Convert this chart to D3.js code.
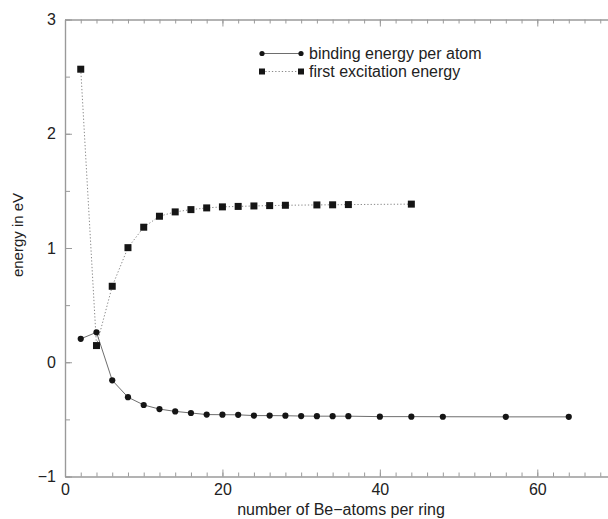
<!DOCTYPE html>
<html>
<head>
<meta charset="utf-8">
<script src="https://cdn.jsdelivr.net/npm/d3@7"></script>
<style>
  html, body { margin: 0; padding: 0; background: #fff; }
  svg { display: block; font-family: "Liberation Sans", Arial, Helvetica, sans-serif; }
</style>
</head>
<body>
<svg id="chart" width="608" height="519"></svg>
<script>
// Binding energy per atom for Be rings of increasing size
const bindingN = [2, 4, 6, 8, 10, 12, 14, 16, 18, 20, 22, 24, 26, 28, 30, 32, 34, 36, 40, 44, 48, 56, 64];
const bindingE = [0.205, 0.262, -0.158, -0.306, -0.374, -0.410, -0.430, -0.444, -0.458, -0.459, -0.460,
                  -0.467, -0.467, -0.468, -0.471, -0.472, -0.472, -0.472, -0.476, -0.476, -0.477, -0.478, -0.478];

// First excitation energy
const excitN = [2, 4, 6, 8, 10, 12, 14, 16, 18, 20, 22, 24, 26, 28, 32, 34, 36, 44];
const excitE = [2.565, 0.146, 0.665, 1.003, 1.182, 1.278, 1.316, 1.336, 1.351, 1.360, 1.364,
                1.368, 1.371, 1.374, 1.377, 1.378, 1.380, 1.384];

const xMajorTicks = [0, 20, 40, 60];
const yMajorTicks = [-1, 0, 1, 2, 3];
const seriesNames = ["binding energy per atom", "first excitation energy"];
const xTitle = "number of Be\u2212atoms per ring";
const yTitle = "energy in eV";

const svg = d3.select("#chart");
const axisColor = "#9a9a9a";
const lineColor = "#6e6e6e";
const markColor = "#151515";

const x = d3.scaleLinear().domain([0, 70]).range([65, 616]);
const y = d3.scaleLinear().domain([-1, 3]).range([476.5, 19.5]);

const xMinor = d3.range(0, 71, 2);
const yMinor = d3.range(-1, 3.01, 0.5);

function styleAxis(g) {
  g.select(".domain").attr("stroke", axisColor).attr("stroke-width", 1.2);
  g.selectAll(".tick line").attr("stroke", axisColor).attr("stroke-width", 1);
  g.selectAll(".tick text").attr("fill", "#222").style("font-size", "16px");
}

// bottom minor + major ticks, pointing inward
svg.append("g").attr("transform", `translate(0,${y(-1)})`)
  .call(d3.axisTop(x).tickValues(xMinor).tickSize(4).tickFormat("").tickSizeOuter(0))
  .call(styleAxis);
svg.append("g").attr("transform", `translate(0,${y(-1)})`)
  .call(d3.axisTop(x).tickValues(xMajorTicks).tickSize(7).tickFormat("").tickSizeOuter(0))
  .call(styleAxis);
// bottom labels
svg.append("g").attr("transform", `translate(0,${y(-1)})`)
  .call(d3.axisBottom(x).tickValues(xMajorTicks).tickSize(0).tickPadding(7).tickFormat(d3.format("d")).tickSizeOuter(0))
  .call(g => { g.select(".domain").remove(); })
  .call(styleAxis);

// top frame
svg.append("g").attr("transform", `translate(0,${y(3)})`)
  .call(d3.axisBottom(x).tickValues(xMinor).tickSize(4).tickFormat("").tickSizeOuter(0))
  .call(styleAxis);
svg.append("g").attr("transform", `translate(0,${y(3)})`)
  .call(d3.axisBottom(x).tickValues(xMajorTicks).tickSize(7).tickFormat("").tickSizeOuter(0))
  .call(styleAxis);

// left axis
svg.append("g").attr("transform", `translate(${x(0)},0)`)
  .call(d3.axisRight(y).tickValues(yMinor).tickSize(5).tickFormat("").tickSizeOuter(0))
  .call(styleAxis);
svg.append("g").attr("transform", `translate(${x(0)},0)`)
  .call(d3.axisRight(y).tickValues(yMajorTicks).tickSize(7).tickFormat("").tickSizeOuter(0))
  .call(styleAxis);
svg.append("g").attr("transform", `translate(${x(0)},0)`)
  .call(d3.axisLeft(y).tickValues(yMajorTicks).tickSize(0).tickPadding(9)
        .tickFormat(d => d < 0 ? "\u2212" + Math.abs(d) : String(d)).tickSizeOuter(0))
  .call(g => { g.select(".domain").remove(); })
  .call(styleAxis);

// axis titles
svg.append("text")
  .attr("x", 341).attr("y", 515)
  .attr("text-anchor", "middle")
  .style("font-size", "16px").attr("fill", "#222")
  .text(xTitle);
svg.append("text")
  .attr("transform", `translate(23,235) rotate(-90)`)
  .attr("text-anchor", "middle")
  .style("font-size", "15px").attr("fill", "#222")
  .text(yTitle);

// series
const bindingData = bindingN.map((n, i) => [n, bindingE[i]]);
const excitData = excitN.map((n, i) => [n, excitE[i]]);
const line = d3.line().x(d => x(d[0])).y(d => y(d[1]));

svg.append("path").datum(excitData)
  .attr("d", line).attr("fill", "none")
  .attr("stroke", "#8a8a8a").attr("stroke-width", 1)
  .attr("stroke-dasharray", "1.3,2");
svg.append("path").datum(bindingData)
  .attr("d", line).attr("fill", "none")
  .attr("stroke", lineColor).attr("stroke-width", 1);

svg.append("g").selectAll("rect").data(excitData).join("rect")
  .attr("x", d => x(d[0]) - 3.5).attr("y", d => y(d[1]) - 3.5)
  .attr("width", 7).attr("height", 7)
  .attr("fill", markColor);
svg.append("g").selectAll("circle").data(bindingData).join("circle")
  .attr("cx", d => x(d[0])).attr("cy", d => y(d[1]))
  .attr("r", 3.1).attr("fill", markColor);

// legend
const leg = svg.append("g");
const lx0 = 262, lx1 = 301, ly0 = 53.5, ly1 = 71.5;
leg.append("line").attr("x1", lx0).attr("x2", lx1).attr("y1", ly0).attr("y2", ly0)
  .attr("stroke", lineColor).attr("stroke-width", 1);
leg.selectAll("circle").data([lx0, lx1]).join("circle")
  .attr("cx", d => d).attr("cy", ly0).attr("r", 2.6).attr("fill", markColor);
leg.append("line").attr("x1", lx0).attr("x2", lx1).attr("y1", ly1).attr("y2", ly1)
  .attr("stroke", "#8a8a8a").attr("stroke-width", 1).attr("stroke-dasharray", "1.3,2");
leg.selectAll("rect").data([lx0, lx1]).join("rect")
  .attr("x", d => d - 3).attr("y", ly1 - 3).attr("width", 6).attr("height", 6).attr("fill", markColor);
leg.selectAll("text").data(seriesNames).join("text")
  .attr("x", 309).attr("y", (d, i) => [ly0, ly1][i] + 5.5)
  .style("font-size", "16px").attr("fill", "#222")
  .text(d => d);
</script>
</body>
</html>
